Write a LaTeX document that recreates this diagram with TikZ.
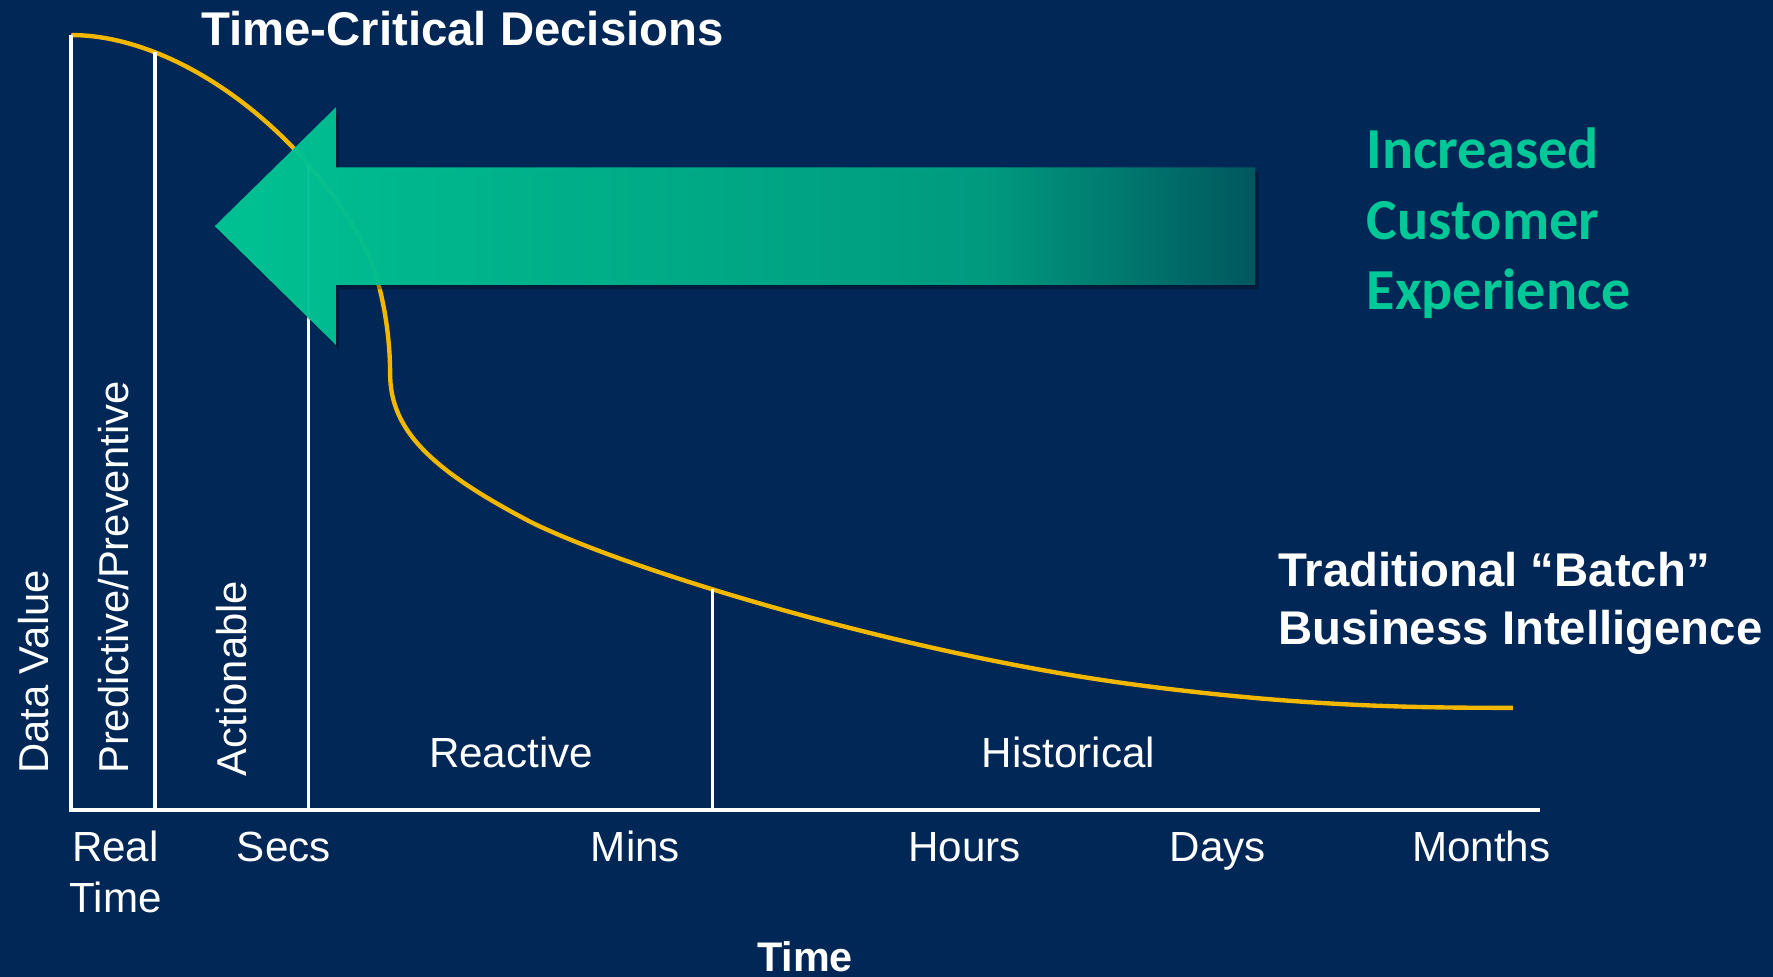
\documentclass[tikz,border=0pt]{standalone}
\usepackage{fontspec}
\setmainfont{Liberation Sans}
\newfontfamily\calibfont{Carlito}
\usetikzlibrary{intersections}

\definecolor{navy}{RGB}{0,39,86}
\definecolor{gold}{RGB}{242,184,0}
\definecolor{mint}{RGB}{0,200,150}
\definecolor{mintmid}{RGB}{0,160,130}
\definecolor{mintdark}{RGB}{0,90,96}

\pgfdeclarehorizontalshading{arrowfade}{100bp}{color(0bp)=(mint); color(25bp)=(mint); color(62bp)=(mintmid); color(75bp)=(mintdark); color(100bp)=(mintdark)}

\begin{document}
\begin{tikzpicture}[x=0.01cm, y=-0.01cm,
    axisline/.style={white, line width=1pt},
    splitline/.style={white, line width=0.85pt},
    valuecurve/.style={gold, line width=1.1pt},
    zone/.style={text=white, font=\fontsize{10.5}{12.6}\selectfont, inner sep=0pt},
    tick/.style={text=white, font=\fontsize{10.6}{12.8}\selectfont, inner sep=0pt, anchor=base},
    headline/.style={text=white, font=\bfseries\fontsize{11.9}{14.3}\selectfont, inner sep=0pt},
    gain/.style={text=mint, font=\calibfont\bfseries\fontsize{14.6}{17.8}\selectfont, inner sep=0pt, anchor=base west}]

    \fill[navy] (0,0) rectangle (1568,864);

    \coordinate (origin) at (63,716);
    \coordinate (xend) at (1362,716);
    \coordinate (ytop) at (63,31);
    \coordinate (foot1) at (137,716);
    \coordinate (foot2) at (273,716);
    \coordinate (foot3) at (630,716);

    \draw[valuecurve, name path=value] (ytop) .. controls (160,31) and (275,120) .. (325,224)
        .. controls (338,252) and (345,295) .. (345,330)
        .. controls (345,380) and (380,415) .. (470,462)
        .. controls (560,506) and (800,578) .. (1000,605)
        .. controls (1150,625) and (1250,626) .. (1338,626);

    \foreach \i in {1,2,3} {
        \path[name path=cut\i] (foot\i) -- ++(0,-716);
        \path[name intersections={of=value and cut\i, by=top\i}];
    }
    \draw[splitline] (foot1 |- top1) -- (foot1);
    \draw[splitline] (foot2 |- top2) -- (foot2);
    \draw[splitline] (foot3 |- top3) -- (foot3);
    \draw[axisline] (ytop) -- (origin) -- (xend);

    \coordinate (tip) at (190,200);
    \fill[black, opacity=.3, transform canvas={shift={(3,4)}}] (tip) -- (297,95) -- (297,148) -- (1110,148) -- (1110,252) -- (297,252) -- (297,305) -- cycle;
    \shade[shading=arrowfade, opacity=.96] (tip) -- (297,95) -- (297,148) -- (1110,148) -- (1110,252) -- (297,252) -- (297,305) -- cycle;

    \node[headline, anchor=base] (critical) at (409,40) {Time-Critical Decisions};
    \node[headline, anchor=base west] (batch) at (1130,519) {Traditional “Batch”};
    \node[headline, anchor=base west] (bi) at (1130,570) {Business Intelligence};

    \node[gain] (gain1) at (1208,149) {Increased};
    \node[gain] (gain2) at (1208,212) {Customer};
    \node[gain] (gain3) at (1208,274) {Experience};

    \node[zone, rotate=90, anchor=base west] (dataval) at (43,685) {Data Value};
    \node[zone, rotate=90, anchor=base west] (predict) at (114,685) {Predictive/Preventive};
    \node[zone, rotate=90, anchor=base west] (action) at (218,687) {Actionable};
    \node[tick] (react) at (452,679) {Reactive};
    \node[tick] (hist) at (945,679) {Historical};

    \node[tick, anchor=base west] (real) at (63,762) {Real};
    \node[tick, anchor=base west] (realtime) at (61,807) {Time};
    \node[tick] (secs) at (251,762) {Secs};
    \node[tick] (mins) at (562,762) {Mins};
    \node[tick] (hours) at (853,762) {Hours};
    \node[tick] (days) at (1077,762) {Days};
    \node[tick] (months) at (1310,762) {Months};
    \node[tick, font=\bfseries\fontsize{10.4}{12.5}\selectfont] (timeaxis) at (712,859) {Time};
\end{tikzpicture}
\end{document}
